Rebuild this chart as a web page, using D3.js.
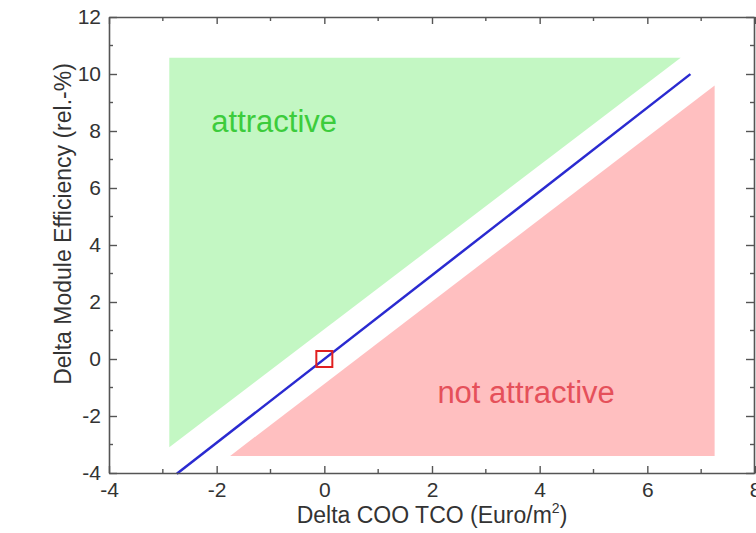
<!DOCTYPE html>
<html>
<head>
<meta charset="utf-8">
<script src="https://cdn.jsdelivr.net/npm/d3@7"></script>
<style>
  body { margin: 0; background: #fff; }
  text { font-family: "Liberation Sans", Arial, sans-serif; }
</style>
</head>
<body>
<div id="chart"></div>
<script>
// axis ranges and ticks
var xDomain = [-4, 8];
var yDomain = [-4, 12];
var xMajor = [-4, -2, 0, 2, 4, 6, 8];
var yMajor = [-4, -2, 0, 2, 4, 6, 8, 10, 12];
var xMinor = [-3, -1, 1, 3, 5, 7];
var yMinor = [-3, -1, 1, 3, 5, 7, 9, 11];

// regions (data coords)
var greenRegion = [[-2.88, 10.57], [6.62, 10.57], [-2.88, -3.1]];
var redRegion = [[-1.75, -3.4], [7.25, -3.4], [7.25, 9.6]];
// break-even line
var lineX = [-2.74, 6.8];
var lineSlope = 1.47;
var origin = [0, 0];

var labels = [
  {text: "attractive", x: -2.1, y: 7.96, color: "#3ccc3c"},
  {text: "not attractive", x: 2.1, y: -1.55, color: "#e5505a"}
];

var width = 756, height = 533;
var margin = {left: 109, top: 17, right: 1, bottom: 60};

var svg = d3.select("#chart").append("svg")
    .attr("width", width).attr("height", height);

var x = d3.scaleLinear().domain(xDomain).range([margin.left, width - margin.right]);
var y = d3.scaleLinear().domain(yDomain).range([height - margin.bottom, margin.top]);

var poly = d3.line().x(function(d){ return x(d[0]); }).y(function(d){ return y(d[1]); });

svg.append("path")
    .attr("d", poly(greenRegion) + "Z")
    .attr("fill", "#c3f7c3");
svg.append("path")
    .attr("d", poly(redRegion) + "Z")
    .attr("fill", "#ffbfc0");

svg.selectAll("text.region")
  .data(labels)
  .enter()
  .append("text")
    .attr("class", "region")
    .attr("x", function(d){ return x(d.x); })
    .attr("y", function(d){ return y(d.y); })
    .style("font-size", "31px")
    .attr("fill", function(d){ return d.color; })
    .text(function(d){ return d.text; });

svg.append("path")
    .attr("d", poly(lineX.map(function(v){ return [v, v * lineSlope]; })))
    .attr("stroke", "#2a2ad0")
    .attr("stroke-width", 2.5)
    .attr("fill", "none");

var sq = 16;
svg.append("rect")
    .attr("x", x(origin[0]) - sq / 2)
    .attr("y", y(origin[1]) - sq / 2)
    .attr("width", sq).attr("height", sq)
    .attr("fill", "none")
    .attr("stroke", "#e02020")
    .attr("stroke-width", 2);

// axes, ticks pointing inward
var axisColor = "#555";
var fmt = function(d){ return String(d); };   // plain hyphen minus
var gBottom = svg.append("g").attr("transform", "translate(0," + y(yDomain[0]) + ")")
    .call(d3.axisBottom(x).tickValues(xMajor).tickSizeInner(-7).tickSizeOuter(0).tickPadding(9).tickFormat(fmt));
var gTop = svg.append("g").attr("transform", "translate(0," + y(yDomain[1]) + ")")
    .call(d3.axisTop(x).tickValues(xMajor).tickSizeInner(-7).tickSizeOuter(0).tickFormat(""));
var gLeft = svg.append("g").attr("transform", "translate(" + x(xDomain[0]) + ",0)")
    .call(d3.axisLeft(y).tickValues(yMajor).tickSizeInner(-8).tickSizeOuter(0).tickPadding(8).tickFormat(fmt));
var gRight = svg.append("g").attr("transform", "translate(" + (x(xDomain[1]) - 1) + ",0)")
    .call(d3.axisRight(y).tickValues(yMajor).tickSizeInner(-8).tickSizeOuter(0).tickFormat(""));

gBottom.append("g").selectAll("line").data(xMinor).enter().append("line")
    .attr("x1", x).attr("x2", x).attr("y1", 0).attr("y2", -4);
gTop.append("g").selectAll("line").data(xMinor).enter().append("line")
    .attr("x1", x).attr("x2", x).attr("y1", 0).attr("y2", 4);
gLeft.append("g").selectAll("line").data(yMinor).enter().append("line")
    .attr("y1", y).attr("y2", y).attr("x1", 0).attr("x2", 4);
gRight.append("g").selectAll("line").data(yMinor).enter().append("line")
    .attr("y1", y).attr("y2", y).attr("x1", 0).attr("x2", -4);

[gBottom, gTop, gLeft, gRight].forEach(function(g){
  g.selectAll("path.domain").attr("stroke", axisColor).attr("stroke-width", 1.6);
  g.selectAll("line").attr("stroke", axisColor).attr("stroke-width", 1.4);
  g.selectAll("text").attr("fill", "#333").style("font-size", "21px")
    .style("font-family", "'Liberation Sans', Arial, sans-serif");
});

// axis titles
var xt = svg.append("text")
    .attr("x", 432).attr("y", 523)
    .attr("text-anchor", "middle")
    .style("font-size", "23px").attr("fill", "#333");
xt.append("tspan").text("Delta COO TCO (Euro/m");
xt.append("tspan").attr("dy", -10).style("font-size", "14px").text("2");
xt.append("tspan").attr("dy", 10).text(")");

svg.append("text")
    .attr("transform", "translate(71,224) rotate(-90)")
    .attr("text-anchor", "middle")
    .style("font-size", "23px").attr("fill", "#333")
    .text("Delta Module Efficiency (rel.-%)");
</script>
</body>
</html>
